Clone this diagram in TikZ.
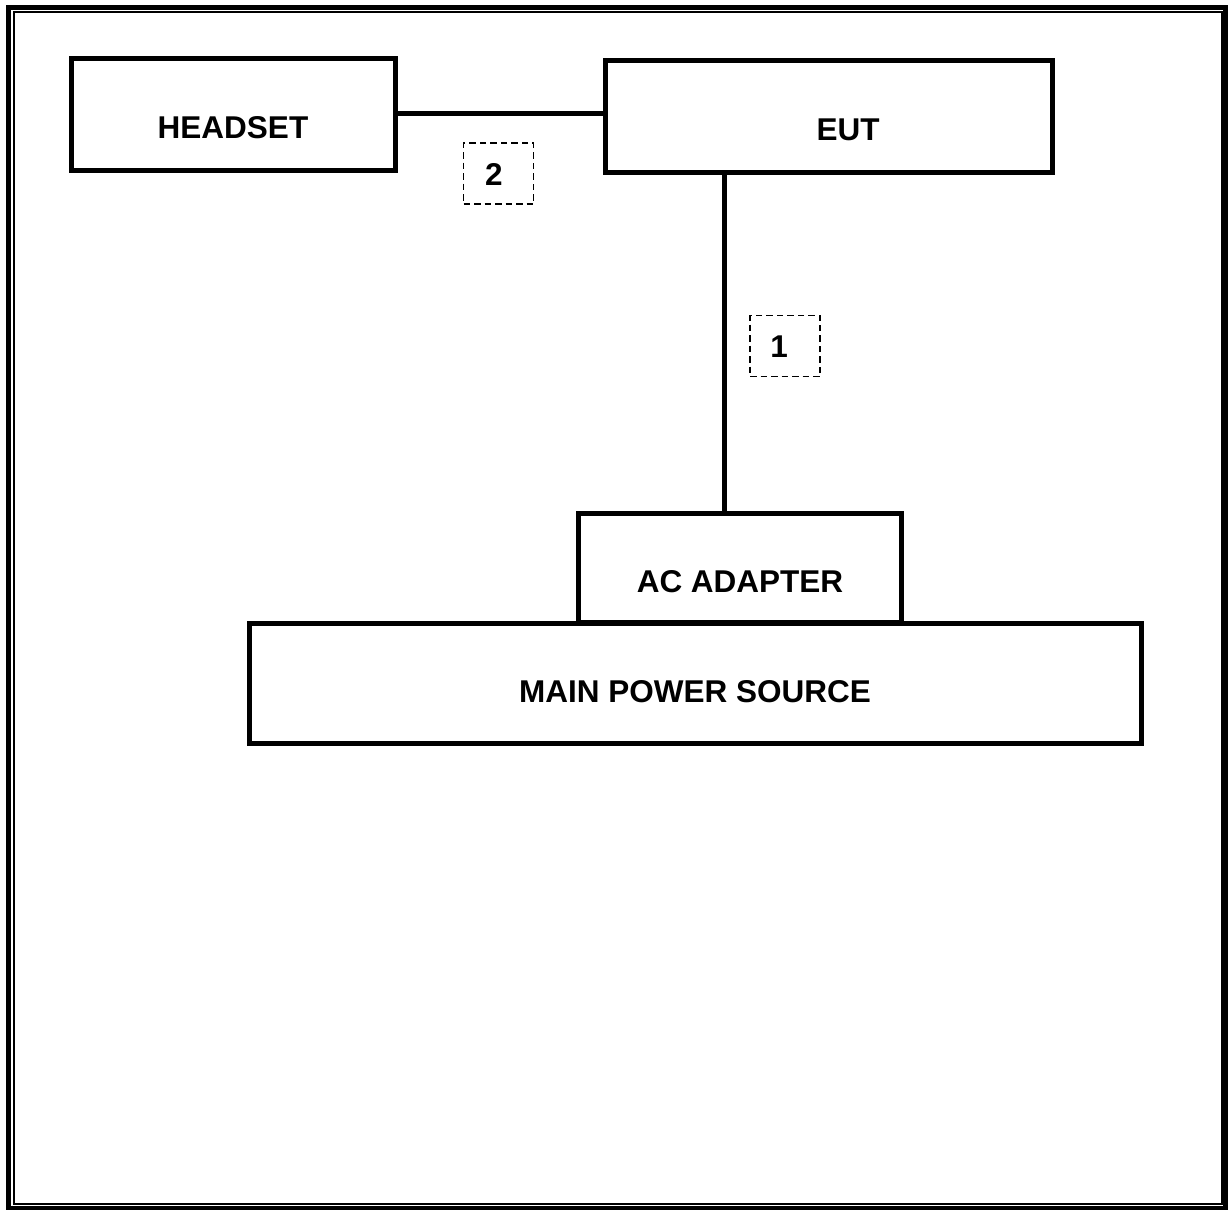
\documentclass[tikz,border=0pt]{standalone}
\usepackage{fontspec}
\setmainfont{Liberation Sans}
\begin{document}
\begin{tikzpicture}[x=1pt,y=-1pt,
  blk/.style={draw,line width=5pt,inner sep=0pt},
  lbl/.style={font=\fontsize{31.5}{36}\selectfont\bfseries,inner sep=0pt,anchor=center},
  cable/.style={line width=5pt},
  tag/.style={draw,line width=1.3pt,dash pattern=on 6.5pt off 4pt,minimum width=70pt,minimum height=61pt,inner sep=0pt},
  taglbl/.style={font=\fontsize{31.5}{36}\selectfont\bfseries,inner sep=0pt,anchor=center}]
\useasboundingbox (0,0) rectangle (1228,1210);
% page border
\draw[line width=4.5pt] (8.5,7.5) rectangle (1225.5,1208);
\draw[line width=2pt] (14,12) rectangle (1222,1204);
% blocks
\node[blk,minimum width=324pt,minimum height=112pt] (hs) at (233,114) {};
\node[lbl] (hst) at (233,128) {HEADSET};
\node[blk,minimum width=447pt,minimum height=112pt] (eut) at (828.5,116) {};
\node[lbl] (eutt) at (848,130) {EUT};
\node[blk,minimum width=323pt,minimum height=109pt] (ac) at (739.5,567.5) {};
\node[lbl] (act) at (740,582) {AC ADAPTER};
\node[blk,minimum width=892pt,minimum height=120pt] (mps) at (695,683) {};
\node[lbl] (mpst) at (695,692) {MAIN POWER SOURCE};
% cables
\coordinate (c2a) at (hs.east |- 0,113);
\coordinate (c2b) at (eut.west |- 0,113);
\draw[cable] (c2a) -- (c2b);
\coordinate (c1) at (724,0);
\draw[cable] (eut.south -| c1) -- (ac.north -| c1);
% cable tags
\node[tag] (t2) at (498.5,173.5) {};
\node[taglbl] (t2l) at (494,174) {2};
\node[tag] (t1) at (785,346) {};
\node[taglbl] (t1l) at (779,347) {1};
\end{tikzpicture}
\end{document}
